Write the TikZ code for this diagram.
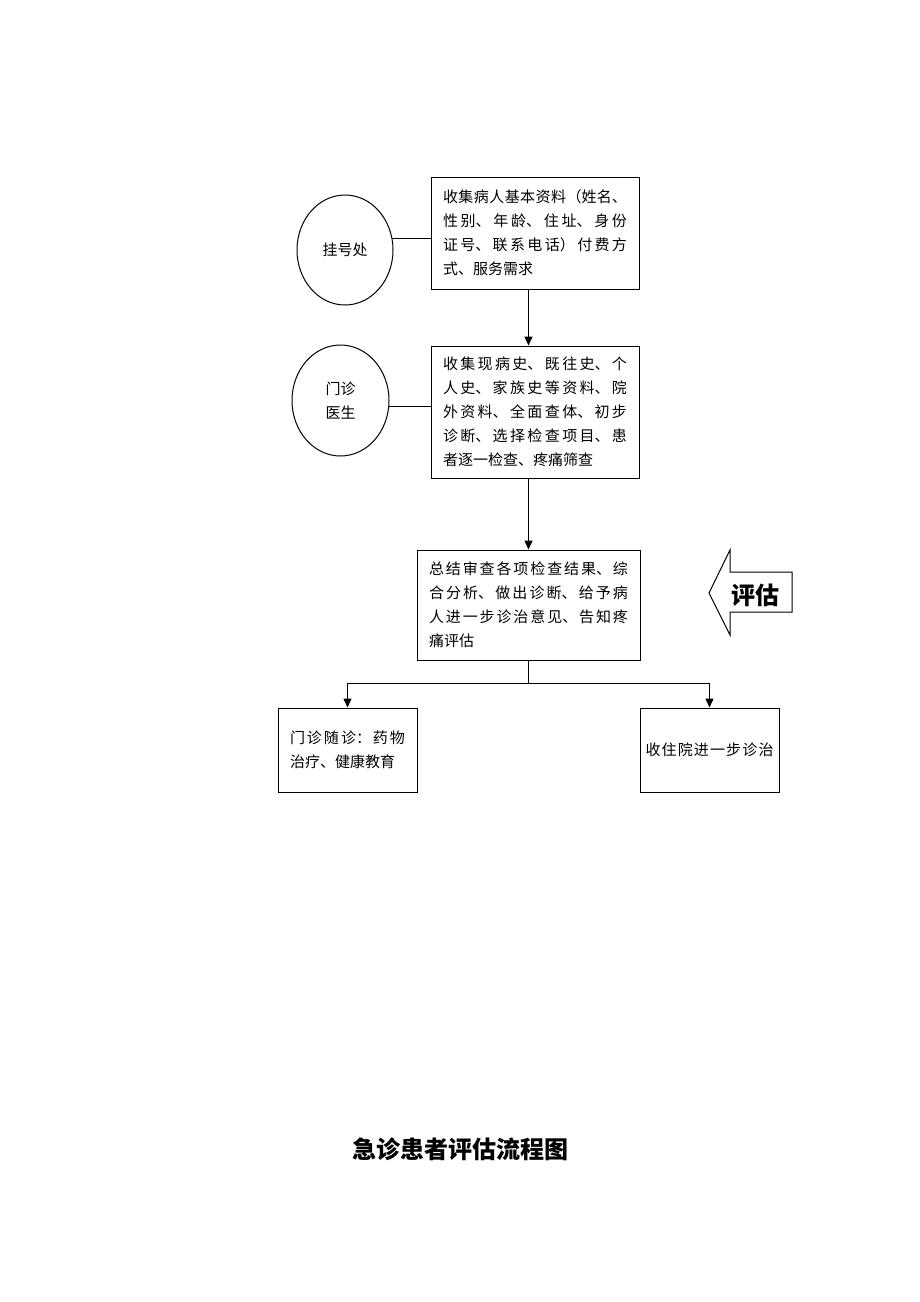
\documentclass[tikz,border=0pt]{standalone}
\usepackage{fontspec}
\setmainfont{Noto Sans CJK SC}
\usepackage{tikz}
\usetikzlibrary{shapes.geometric, arrows.meta}
\XeTeXlinebreaklocale "zh"
\XeTeXlinebreakskip=0pt plus 10pt

\begin{document}
\begin{tikzpicture}[x=1pt, y=-1pt,
	box/.style={draw, line width=1pt, inner xsep=12pt, inner ysep=0pt, align=justify, font=\fontsize{15}{24}\selectfont},
	circ/.style={draw, ellipse, line width=1pt, inner sep=0pt, align=center, font=\fontsize{15}{24}\selectfont},
	arr/.style={line width=1.4pt, -{Triangle[length=9pt, width=8pt]}},
	link/.style={line width=1pt}]
	\useasboundingbox (0,0) rectangle (920,1302);

	\node[circ, minimum width=96pt, minimum height=110pt] (reg) at (345,250) {挂号处};
	\node[circ, minimum width=97pt, minimum height=111pt] (doc) at (340.5,400.5) {门诊\\医生};

	\node[box, text width=184pt, minimum height=112pt] (info) at (535,233) {收集病人基本资料（姓名、\linebreak 性别、年龄、住址、身份\linebreak 证号、联系电话）付费方\linebreak 式、服务需求};
	\node[box, text width=184pt, minimum height=132pt] (hist) at (535,412) {收集现病史、既往史、个\linebreak 人史、家族史等资料、院\linebreak 外资料、全面查体、初步\linebreak 诊断、选择检查项目、患\linebreak 者逐一检查、疼痛筛查};
	\node[box, text width=199pt, minimum height=110pt] (summ) at (528.5,605) {总结审查各项检查结果、综\linebreak 合分析、做出诊断、给予病\linebreak 人进一步诊治意见、告知疼\linebreak 痛评估};
	\node[box, text width=115pt, minimum height=84pt] (opd) at (347.5,750) {\parfillskip=0pt 门诊随诊：药物\linebreak 治疗、健康教育};
	\node[box, text width=128pt, inner xsep=5.5pt, minimum height=84pt, align=center] (adm) at (709.5,750) {\makebox[128pt][s]{收\hfill 住\hfill 院\hfill 进\hfill 一\hfill 步\hfill 诊\hfill 治}};

	\draw[link] (reg.14) -- (reg.14 -| info.west);
	\draw[link] (doc.-7) -- (doc.-7 -| hist.west);
	\draw[arr] (info.south -| summ.north) -- (hist.north -| summ.north);
	\draw[arr] (hist.south -| summ.north) -- (summ.north);
	\draw[line width=1.4pt] (summ.south) -- ++(0,23) coordinate (fork);
	\draw[arr] (fork) -| (opd.north);
	\draw[arr] (fork) -| (adm.north);

	% evaluation arrow
	\draw[line width=1pt] (709,593) -- (730,550) -- (730,572) -- (792,572) -- (792,612) -- (730,612) -- (730,635) -- cycle;
	\node[font=\fontsize{24}{28}\selectfont\bfseries] (eval) at (755,595) {评估};

	\node[font=\fontsize{24}{28}\selectfont\bfseries] (title) at (460.5,1149) {急诊患者评估流程图};
\end{tikzpicture}
\end{document}
